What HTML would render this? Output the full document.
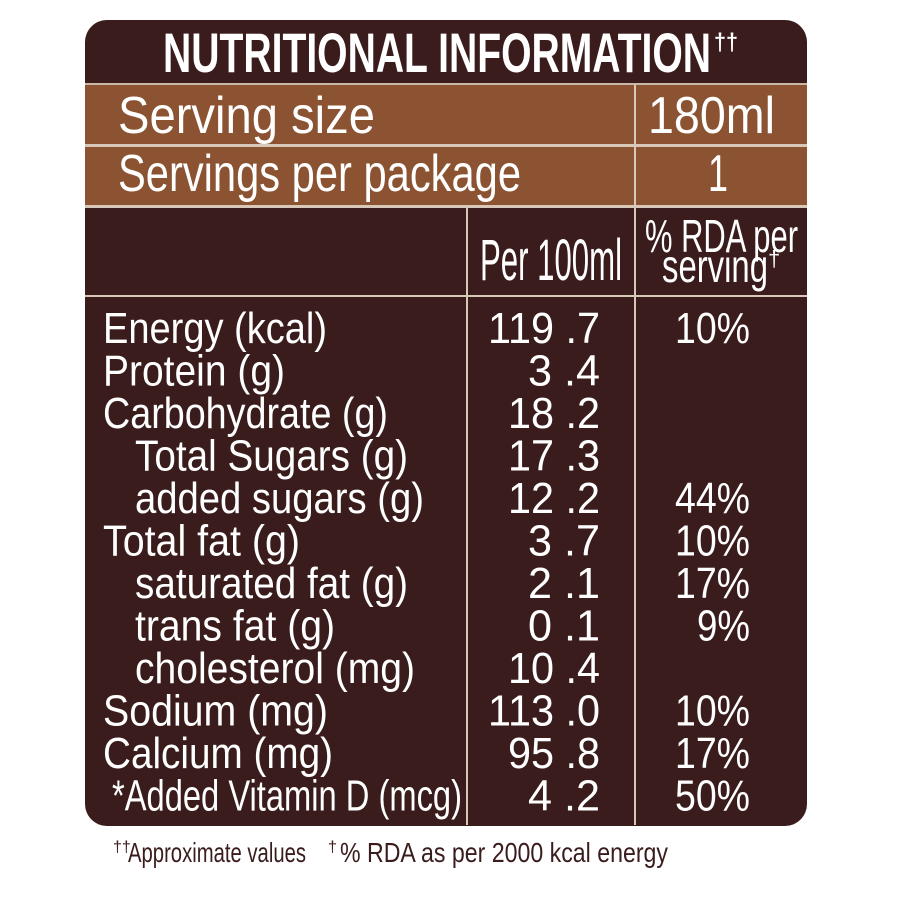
<!DOCTYPE html>
<html><head><meta charset="utf-8"><style>
html,body{margin:0;padding:0;background:#fff;}
svg{display:block;}
text{font-family:"Liberation Sans Narrow","Liberation Sans",sans-serif;fill:#fff;}
</style></head><body>
<svg width="900" height="900" viewBox="0 0 900 900" xmlns="http://www.w3.org/2000/svg">
<rect x="85" y="20" width="722" height="806" rx="22" fill="#3a1c1c"/>
<rect x="85" y="83" width="722" height="2" fill="#c9b7a8"/>
<rect x="85" y="85" width="722" height="59" fill="#8b5331"/>
<rect x="85" y="144" width="722" height="3" fill="#d8c8b8"/>
<rect x="85" y="147" width="722" height="58" fill="#8b5331"/>
<rect x="85" y="205" width="722" height="3" fill="#d8c8b8"/>
<rect x="85" y="295" width="722" height="2" fill="#d8c8b8"/>
<rect x="634" y="85" width="2" height="120" fill="#d8c8b8"/>
<rect x="466" y="208" width="2" height="617" fill="#d8c8b8"/>
<rect x="634" y="208" width="2" height="617" fill="#d8c8b8"/>

<text x="163" y="72" font-size="56" font-weight="bold" textLength="548" lengthAdjust="spacingAndGlyphs">NUTRITIONAL INFORMATION</text>
<text x="714" y="50" font-size="24" font-weight="bold" textLength="24" lengthAdjust="spacingAndGlyphs">††</text>

<text x="118" y="133" font-size="52" textLength="257" lengthAdjust="spacingAndGlyphs">Serving size</text>
<text x="648" y="133" font-size="52" textLength="127" lengthAdjust="spacingAndGlyphs">180ml</text>
<text x="118" y="191" font-size="52" textLength="403" lengthAdjust="spacingAndGlyphs">Servings per package</text>
<text x="708" y="191" font-size="52" textLength="20" lengthAdjust="spacingAndGlyphs">1</text>

<text x="480" y="280" font-size="58" textLength="142" lengthAdjust="spacingAndGlyphs">Per 100ml</text>
<text x="645" y="252" font-size="46" textLength="153" lengthAdjust="spacingAndGlyphs">% RDA per</text>
<text x="662" y="282" font-size="46" textLength="106" lengthAdjust="spacingAndGlyphs">serving</text>
<text x="768" y="266" font-size="22">†</text>

<g font-size="44">
<text x="103" y="343" textLength="224" lengthAdjust="spacingAndGlyphs">Energy (kcal)</text>
<text x="103" y="385.5" textLength="182" lengthAdjust="spacingAndGlyphs">Protein (g)</text>
<text x="103" y="428" textLength="285" lengthAdjust="spacingAndGlyphs">Carbohydrate (g)</text>
<text x="135" y="470.5" textLength="273" lengthAdjust="spacingAndGlyphs">Total Sugars (g)</text>
<text x="135" y="513" textLength="289" lengthAdjust="spacingAndGlyphs">added sugars (g)</text>
<text x="103" y="555.5" textLength="197" lengthAdjust="spacingAndGlyphs">Total fat (g)</text>
<text x="135" y="598" textLength="273" lengthAdjust="spacingAndGlyphs">saturated fat (g)</text>
<text x="135" y="640.5" textLength="200" lengthAdjust="spacingAndGlyphs">trans fat (g)</text>
<text x="135" y="683" textLength="280" lengthAdjust="spacingAndGlyphs">cholesterol (mg)</text>
<text x="103" y="725.5" textLength="225" lengthAdjust="spacingAndGlyphs">Sodium (mg)</text>
<text x="103" y="768" textLength="230" lengthAdjust="spacingAndGlyphs">Calcium (mg)</text>
<text x="112" y="810.5" textLength="350" lengthAdjust="spacingAndGlyphs">*Added Vitamin D (mcg)</text>

<text x="488" y="343" textLength="112" lengthAdjust="spacingAndGlyphs">119 .7</text>
<text x="528" y="385.5" textLength="72" lengthAdjust="spacingAndGlyphs">3 .4</text>
<text x="508" y="428" textLength="92" lengthAdjust="spacingAndGlyphs">18 .2</text>
<text x="508" y="470.5" textLength="92" lengthAdjust="spacingAndGlyphs">17 .3</text>
<text x="508" y="513" textLength="92" lengthAdjust="spacingAndGlyphs">12 .2</text>
<text x="528" y="555.5" textLength="72" lengthAdjust="spacingAndGlyphs">3 .7</text>
<text x="528" y="598" textLength="72" lengthAdjust="spacingAndGlyphs">2 .1</text>
<text x="528" y="640.5" textLength="72" lengthAdjust="spacingAndGlyphs">0 .1</text>
<text x="508" y="683" textLength="92" lengthAdjust="spacingAndGlyphs">10 .4</text>
<text x="488" y="725.5" textLength="112" lengthAdjust="spacingAndGlyphs">113 .0</text>
<text x="508" y="768" textLength="92" lengthAdjust="spacingAndGlyphs">95 .8</text>
<text x="528" y="810.5" textLength="72" lengthAdjust="spacingAndGlyphs">4 .2</text>

<text x="675" y="343" textLength="75" lengthAdjust="spacingAndGlyphs">10%</text>
<text x="675" y="513" textLength="75" lengthAdjust="spacingAndGlyphs">44%</text>
<text x="675" y="555.5" textLength="75" lengthAdjust="spacingAndGlyphs">10%</text>
<text x="675" y="598" textLength="75" lengthAdjust="spacingAndGlyphs">17%</text>
<text x="697" y="640.5" textLength="53" lengthAdjust="spacingAndGlyphs">9%</text>
<text x="675" y="725.5" textLength="75" lengthAdjust="spacingAndGlyphs">10%</text>
<text x="675" y="768" textLength="75" lengthAdjust="spacingAndGlyphs">17%</text>
<text x="675" y="810.5" textLength="75" lengthAdjust="spacingAndGlyphs">50%</text>
</g>

<text x="113" y="852" font-size="16" style="fill:#3a1c1c">††</text>
<text x="128" y="862" font-size="28" textLength="178" lengthAdjust="spacingAndGlyphs" style="fill:#3a1c1c">Approximate values</text>
<text x="328" y="852" font-size="16" style="fill:#3a1c1c">†</text>
<text x="340" y="862" font-size="28" textLength="328" lengthAdjust="spacingAndGlyphs" style="fill:#3a1c1c">% RDA as per 2000 kcal energy</text>
</svg>
</body></html>
